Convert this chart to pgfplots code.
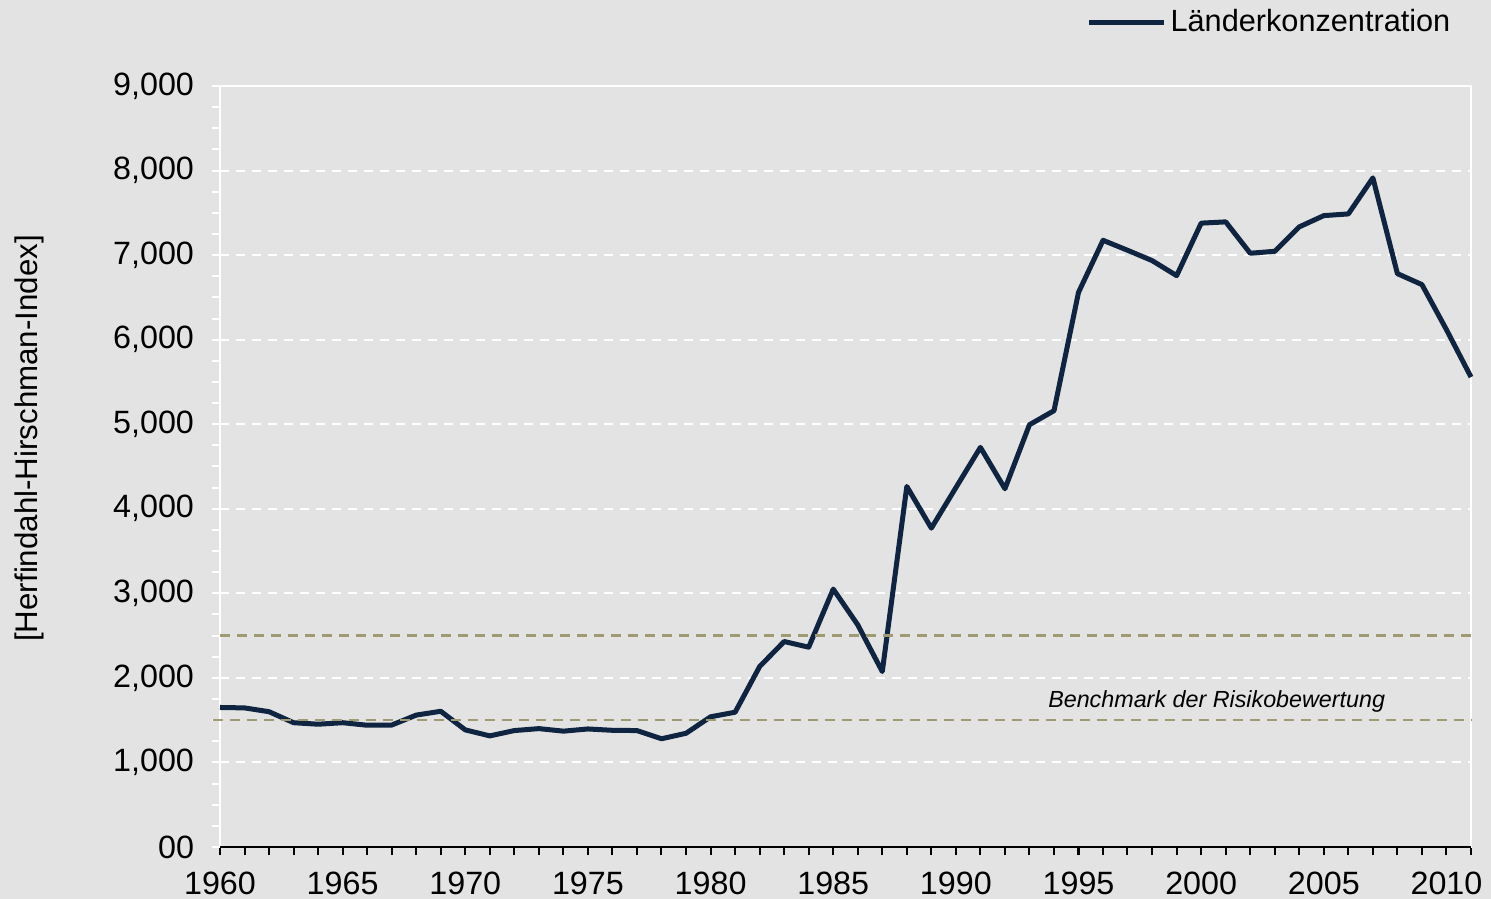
\documentclass[border=0pt]{standalone}
\usepackage{fontspec}
\setmainfont{Liberation Sans}
\usepackage{pgfplots}
\pgfplotsset{compat=1.18}
\definecolor{bgc}{HTML}{E3E3E3}
\definecolor{navy}{HTML}{0E2441}
\definecolor{olive}{HTML}{A09A72}
\begin{document}
\begin{tikzpicture}
\useasboundingbox (-110bp,-26bp) rectangle (635.5bp,423.5bp);
\fill[bgc] (-110bp,-26bp) rectangle (635.5bp,423.5bp);
\begin{axis}[
  at={(0,0)}, anchor=south west,
  scale only axis, width=625.5bp, height=380.5bp,
  xmin=1960, xmax=2011, ymin=0, ymax=9000,
  clip=false,
  axis line style={white, line width=1.2bp},
  xtick={1960,1965,...,2010},
  xticklabels={1960,1965,1970,1975,1980,1985,1990,1995,2000,2005,2010},
  minor xtick={1960,...,2011},
  ytick={0,1000,...,9000},
  yticklabels={00,{1,000},{2,000},{3,000},{4,000},{5,000},{6,000},{7,000},{8,000},{9,000}},
  minor ytick={0,250,...,9000},
  tick align=outside,
  xtick pos=bottom, ytick pos=left,
  major tick length=4bp, minor tick length=4bp,
  xtick style={black, line width=1bp},
  minor x tick style={black, line width=1bp},
  ytick style={white, line width=1bp},
  minor y tick style={white, line width=1bp},
  ymajorgrids,
  major y grid style={white, line width=1bp, dash pattern=on 4.5bp off 3.5bp},
  tick label style={font=\fontsize{16.2}{19}\selectfont, text=black},
  yticklabel style={xshift=-5.5bp},
  xticklabel style={yshift=-5bp},
  ylabel={[Herfindahl-Hirschman-Index]},
  ylabel style={font=\fontsize{15.7}{18}\selectfont, at={(axis description cs:-0.152,0.537)}, anchor=center, rotate=0},
  legend style={draw=none, fill=none, at={(axis description cs:0.987,1.084)}, anchor=east, inner sep=0pt,
    font=\fontsize{15.4}{18}\selectfont, legend cell align=left},
  legend image code/.code={\draw[#1] (0bp,0bp) -- (37.5bp,0bp);},
]
\addplot[navy, line width=2.5bp, line join=round] coordinates {
(1960,1650) (1961,1645) (1962,1600) (1963,1470) (1964,1452) (1965,1470)
(1966,1440) (1967,1442) (1968,1560) (1969,1605) (1970,1385) (1971,1314)
(1972,1377) (1973,1400) (1974,1370) (1975,1396) (1976,1380) (1977,1377)
(1978,1280) (1979,1345) (1980,1540) (1981,1594) (1982,2134) (1983,2430)
(1984,2363) (1985,3050) (1986,2627) (1987,2075) (1988,4264) (1989,3771)
(1990,4250) (1991,4726) (1992,4237) (1993,4994) (1994,5160) (1995,6560)
(1996,7175) (1997,7057) (1998,6935) (1999,6757) (2000,7378) (2001,7393)
(2002,7022) (2003,7045) (2004,7334) (2005,7467) (2006,7487) (2007,7913)
(2008,6781) (2009,6651) (2010,6118) (2011,5558)
};
\addlegendentry{Länderkonzentration}
\addplot[olive, line width=1.2bp, dash pattern=on 5bp off 3.5bp, forget plot] coordinates {(1960,2500) (2011,2500)};
\addplot[olive, line width=1.2bp, dash pattern=on 5bp off 3.5bp, forget plot] coordinates {(1959.7,1500) (2011,1500)};
\draw[black, line width=1.2bp] (rel axis cs:0,0) -- (rel axis cs:1,0);
\node[anchor=west, inner sep=0pt, font=\fontsize{11.7}{14}\selectfont\itshape] at (axis cs:1993.75,1716) {Benchmark der Risikobewertung};
\end{axis}
\end{tikzpicture}
\end{document}
